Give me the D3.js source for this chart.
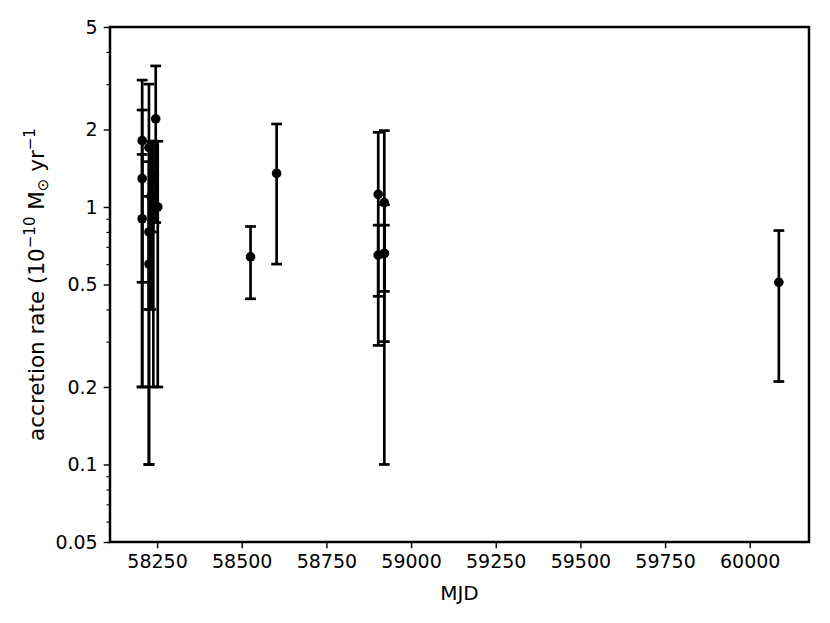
<!DOCTYPE html>
<html>
<head>
<meta charset="utf-8">
<script src="https://cdn.jsdelivr.net/npm/d3@7"></script>
<style>
  body { margin: 0; background: #fff; }
  svg { display: block; font-family: "DejaVu Sans", sans-serif; }
</style>
</head>
<body>
<svg id="chart" width="830" height="623"></svg>
<script>
// observation dates (MJD), accretion rate and symmetric error (10^-10 Msun/yr)
var mjd  = [58206, 58206, 58206, 58226, 58226, 58226, 58232, 58238, 58239, 58246, 58252,
            58526, 58603,
            58903, 58903, 58921, 58921, 58921,
            60086]
var rate = [1.81, 1.29, 0.90, 1.70, 0.80, 0.60, 1.10, 1.30, 1.00, 2.20, 1.00,
            0.64, 1.35,
            1.12, 0.65, 1.04, 0.66, 0.66,
            0.51]
var err  = [1.30, 1.09, 0.70, 1.30, 0.70, 0.50, 0.70, 0.50, 0.80, 1.33, 0.80,
            0.20, 0.75,
            0.83, 0.20, 0.94, 0.19, 0.36,
            0.30]

var xTicks = [58250, 58500, 58750, 59000, 59250, 59500, 59750, 60000]
var yTicks = [0.05, 0.1, 0.2, 0.5, 1, 2, 5]
var yMinor = [0.06, 0.07, 0.08, 0.09, 0.3, 0.4, 0.6, 0.7, 0.8, 0.9, 3, 4]

var data = mjd.map((d, i) => ({ mjd: d, rate: rate[i], err: err[i] }))

// plot area (pixels)
var plotL = 110, plotR = 809, plotT = 27, plotB = 542

var svg = d3.select("#chart")

var x = d3.scaleLinear()
    .domain([58111, 60175])
    .range([plotL, plotR])

var y = d3.scaleLog()
    .domain([0.05, 5])
    .range([plotB, plotT])

// axes
var xAxis = svg.append("g")
    .attr("transform", "translate(0," + plotB + ")")
    .call(d3.axisBottom(x).tickValues(xTicks).tickSize(6.3).tickPadding(6).tickFormat(d3.format("d")))
xAxis.select(".domain").remove()

var yAxis = svg.append("g")
    .attr("transform", "translate(" + plotL + ",0)")
    .call(d3.axisLeft(y).tickValues(yTicks).tickSize(6.3).tickPadding(6).tickFormat(d => String(d)))
yAxis.select(".domain").remove()

var yAxisMinor = svg.append("g")
    .attr("transform", "translate(" + plotL + ",0)")
    .call(d3.axisLeft(y).tickValues(yMinor).tickSize(3.6).tickFormat(""))
yAxisMinor.select(".domain").remove()

svg.selectAll(".tick line").attr("stroke", "#000").attr("stroke-width", 1.4)
yAxisMinor.selectAll(".tick line").attr("stroke-width", 1.1)
svg.selectAll(".tick text")
    .attr("fill", "#000")
    .style("font-size", "19px")
    .style("font-family", "DejaVu Sans")

// axis labels
svg.append("text")
    .attr("x", (plotL + plotR) / 2)
    .attr("y", 600)
    .attr("text-anchor", "middle")
    .style("font-size", "20px")
    .text("MJD")

var ylab = svg.append("text")
    .attr("transform", "translate(44," + ((plotT + plotB) / 2) + ") rotate(-90)")
    .attr("text-anchor", "middle")
    .style("font-size", "21.5px")
ylab.append("tspan").text("accretion rate (10")
ylab.append("tspan").attr("dy", -9).style("font-size", "15px").text("\u221210")
ylab.append("tspan").attr("dy", 9).text(" M")
ylab.append("tspan").attr("dy", 4).style("font-size", "15px").text("\u2299")
ylab.append("tspan").attr("dy", -4).text(" yr")
ylab.append("tspan").attr("dy", -9).style("font-size", "15px").text("\u22121")

// error bars
var cap = 5.4
var marks = svg.append("g")

marks.selectAll(".bar")
    .data(data)
    .enter()
    .append("line")
    .attr("class", "bar")
    .attr("x1", d => x(d.mjd))
    .attr("x2", d => x(d.mjd))
    .attr("y1", d => y(d.rate - d.err))
    .attr("y2", d => y(d.rate + d.err))
    .attr("stroke", "#000")
    .attr("stroke-width", 2.7)

marks.selectAll(".caplo")
    .data(data)
    .enter()
    .append("line")
    .attr("x1", d => x(d.mjd) - cap)
    .attr("x2", d => x(d.mjd) + cap)
    .attr("y1", d => y(d.rate - d.err))
    .attr("y2", d => y(d.rate - d.err))
    .attr("stroke", "#000")
    .attr("stroke-width", 2.7)

marks.selectAll(".caphi")
    .data(data)
    .enter()
    .append("line")
    .attr("x1", d => x(d.mjd) - cap)
    .attr("x2", d => x(d.mjd) + cap)
    .attr("y1", d => y(d.rate + d.err))
    .attr("y2", d => y(d.rate + d.err))
    .attr("stroke", "#000")
    .attr("stroke-width", 2.7)

marks.selectAll("circle")
    .data(data)
    .enter()
    .append("circle")
    .attr("cx", d => x(d.mjd))
    .attr("cy", d => y(d.rate))
    .attr("r", 4.8)
    .attr("fill", "#000")

// frame on top
svg.append("rect")
    .attr("x", plotL)
    .attr("y", plotT)
    .attr("width", plotR - plotL)
    .attr("height", plotB - plotT)
    .attr("fill", "none")
    .attr("stroke", "#000")
    .attr("stroke-width", 2.5)
</script>
</body>
</html>
